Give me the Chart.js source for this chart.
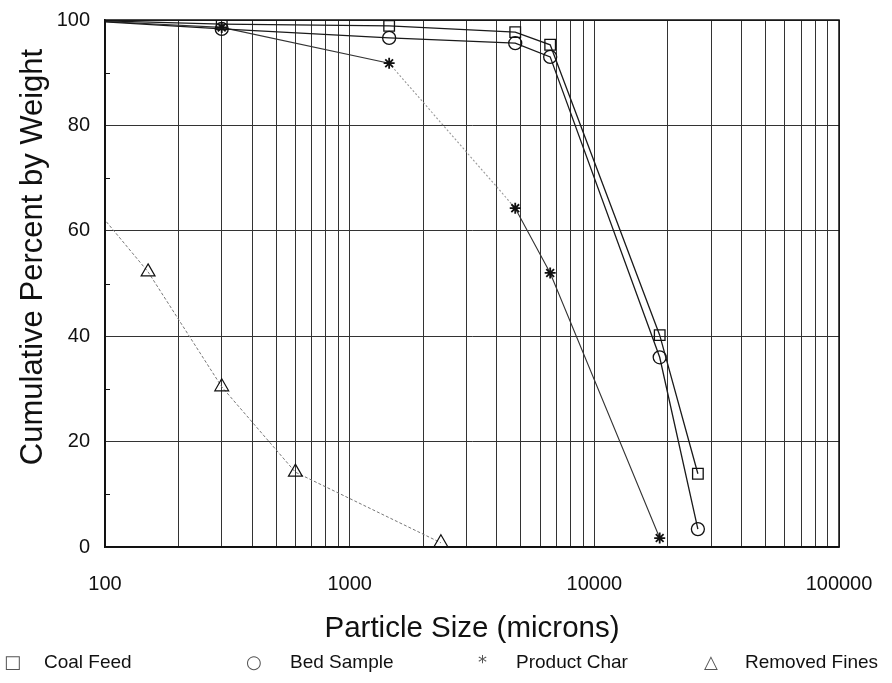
<!DOCTYPE html>
<html>
<head>
<meta charset="utf-8">
<script src="https://cdn.jsdelivr.net/npm/chart.js@4.4.1/dist/chart.umd.min.js"></script>
<style>
  body { margin: 0; background: #fff; }
  #wrap { position: relative; width: 892px; height: 683px; }
  #legend { position: absolute; left: 0; top: 651px; width: 892px; height: 26px;
            font-family: "Liberation Sans", Arial, sans-serif; font-size: 19px; color: #111; }
  #legend span { position: absolute; top: 0; white-space: nowrap; }
  #legend .mk { font-family: "DejaVu Sans", sans-serif; color: #555; font-size: 18px; top: 0px; }
</style>
</head>
<body>
<div id="wrap">
  <canvas id="c" width="892" height="683"></canvas>
  <div id="legend"></div>
</div>
<script>
// sieve sizes (microns) and cumulative percent passing
var coalSizes = [75, 300, 1450, 4750, 6600, 18500, 26500];
var coalFeed = [100, 99.2, 98.9, 97.7, 95.3, 40.2, 13.9];

var bedSizes = [75, 300, 1450, 4750, 6600, 18500, 26500];
var bedSample = [100, 98.3, 96.6, 95.6, 93.0, 36.0, 3.4];

var charSizes = [75, 300, 1450, 4750, 6600, 18500];
var productChar = [100, 98.6, 91.8, 64.3, 52.0, 1.7];

var finesSizes = [75, 150, 300, 600, 2360];
var removedFines = [69, 52.2, 30.4, 14.2, 0.8];

var xTickLabels = [100, 1000, 10000, 100000];
var yTickLabels = [0, 20, 40, 60, 80, 100];

var seriesNames = ['Coal Feed', 'Bed Sample', 'Product Char', 'Removed Fines'];

function pts(xs, ys) {
    return xs.map(function(x, i) { return {x: x, y: ys[i]}; });
}

// vertical grid at 1..9 x 10^k
var xGrid = [];
for (var e = 2; e < 5; e++) {
    for (var m = 1; m < 10; m++) xGrid.push(m * Math.pow(10, e));
}
xGrid.push(100000);

var extras = {
    id: 'extras',
    afterDraw: function(chart) {
        var ctx = chart.ctx, a = chart.chartArea, y = chart.scales.y;
        ctx.save();
        ctx.strokeStyle = '#111';
        ctx.lineWidth = 1.5;
        ctx.strokeRect(a.left, a.top, a.right - a.left, a.bottom - a.top);
        // small inward ticks at the odd tens
        ctx.lineWidth = 1;
        [10, 30, 50, 70, 90].forEach(function(v) {
            var py = Math.round(y.getPixelForValue(v)) + 0.5;
            ctx.beginPath();
            ctx.moveTo(a.left, py);
            ctx.lineTo(a.left + 5, py);
            ctx.stroke();
        });
        // y title
        ctx.fillStyle = '#111';
        ctx.font = '31px "Liberation Sans", Arial, sans-serif';
        ctx.textAlign = 'center';
        ctx.textBaseline = 'middle';
        ctx.translate(33, 257);
        ctx.rotate(-Math.PI / 2);
        ctx.fillText('Cumulative Percent by Weight', 0, 0);
        ctx.restore();
    }
};

var darkLine = '#1a1a1a';

new Chart(document.getElementById('c'), {
    type: 'line',
    data: {
        datasets: [{
            label: seriesNames[0],
            data: pts(coalSizes, coalFeed),
            borderColor: darkLine,
            borderWidth: 1.3,
            pointStyle: 'rect',
            pointRadius: function(c) { return c.dataIndex === 0 ? 0 : 7.5; },
            pointBorderColor: '#111',
            pointBackgroundColor: 'rgba(0,0,0,0)',
            pointBorderWidth: 1.3
        }, {
            label: seriesNames[1],
            data: pts(bedSizes, bedSample),
            borderColor: darkLine,
            borderWidth: 1.3,
            pointStyle: 'circle',
            pointRadius: function(c) { return c.dataIndex === 0 ? 0 : 6.5; },
            pointBorderColor: '#111',
            pointBackgroundColor: 'rgba(0,0,0,0)',
            pointBorderWidth: 1.3
        }, {
            label: seriesNames[2],
            data: pts(charSizes, productChar),
            borderColor: darkLine,
            borderWidth: 1.1,
            segment: {
                borderColor: function(c) { return c.p0DataIndex === 2 ? '#999' : '#333'; },
                borderDash: function(c) { return c.p0DataIndex === 2 ? [2, 2] : undefined; }
            },
            pointStyle: 'star',
            pointRadius: function(c) { return c.dataIndex === 0 ? 0 : 5.5; },
            pointBorderColor: '#111',
            pointBorderWidth: 1.8
        }, {
            label: seriesNames[3],
            data: pts(finesSizes, removedFines),
            borderColor: '#777',
            borderWidth: 1,
            borderDash: [3, 2],
            pointStyle: 'triangle',
            pointRadius: function(c) { return c.dataIndex === 0 ? 0 : 8; },
            pointBorderColor: '#111',
            pointBackgroundColor: 'rgba(0,0,0,0)',
            pointBorderWidth: 1.2
        }]
    },
    options: {
        responsive: false,
        animation: false,
        devicePixelRatio: 1,
        layout: { padding: { top: 20, right: 53, left: 0, bottom: 0 } },
        plugins: { legend: { display: false }, tooltip: { enabled: false } },
        elements: { line: { tension: 0 } },
        scales: {
            x: {
                type: 'logarithmic',
                min: 100,
                max: 100000,
                afterBuildTicks: function(s) {
                    s.ticks = xGrid.map(function(v) { return {value: v}; });
                },
                afterFit: function(s) {
                    s.height = 136;
                    s.paddingLeft = 0;
                    s.paddingRight = 0;
                },
                ticks: {
                    autoSkip: false,
                    maxRotation: 0,
                    padding: 25,
                    color: '#111',
                    font: { family: '"Liberation Sans", Arial, sans-serif', size: 20 },
                    callback: function(v) { return xTickLabels.indexOf(v) >= 0 ? String(v) : ''; }
                },
                grid: { color: '#333', lineWidth: 1, drawTicks: false },
                border: { color: '#111', width: 1.5 },
                title: {
                    display: true,
                    text: 'Particle Size (microns)',
                    color: '#111',
                    font: { family: '"Liberation Sans", Arial, sans-serif', size: 29.5 },
                    padding: { top: 0, bottom: 36 }
                }
            },
            y: {
                min: 0,
                max: 100,
                afterFit: function(s) {
                    s.width = 105;
                    s.paddingTop = 0;
                    s.paddingBottom = 0;
                },
                ticks: {
                    stepSize: 10,
                    padding: 15,
                    color: '#111',
                    font: { family: '"Liberation Sans", Arial, sans-serif', size: 20 },
                    callback: function(v) { return yTickLabels.indexOf(v) >= 0 ? String(v) : ''; }
                },
                grid: {
                    drawTicks: false,
                    lineWidth: 1,
                    color: function(c) {
                        return yTickLabels.indexOf(c.tick.value) >= 0 ? '#333' : 'rgba(0,0,0,0)';
                    }
                },
                border: { color: '#111', width: 1.5 }
            }
        }
    },
    plugins: [extras]
});

// legend below the axis title
var marks = ['\u25A1', '\u25CB', '*', '\u25B3'];
var markX = [4, 246, 478, 704];
var textX = [44, 290, 516, 745];
var lg = document.getElementById('legend');
seriesNames.forEach(function(name, i) {
    var m = document.createElement('span');
    m.className = 'mk';
    m.style.left = markX[i] + 'px';
    m.textContent = marks[i];
    lg.appendChild(m);
    var t = document.createElement('span');
    t.style.left = textX[i] + 'px';
    t.textContent = name;
    lg.appendChild(t);
});
</script>
</body>
</html>
